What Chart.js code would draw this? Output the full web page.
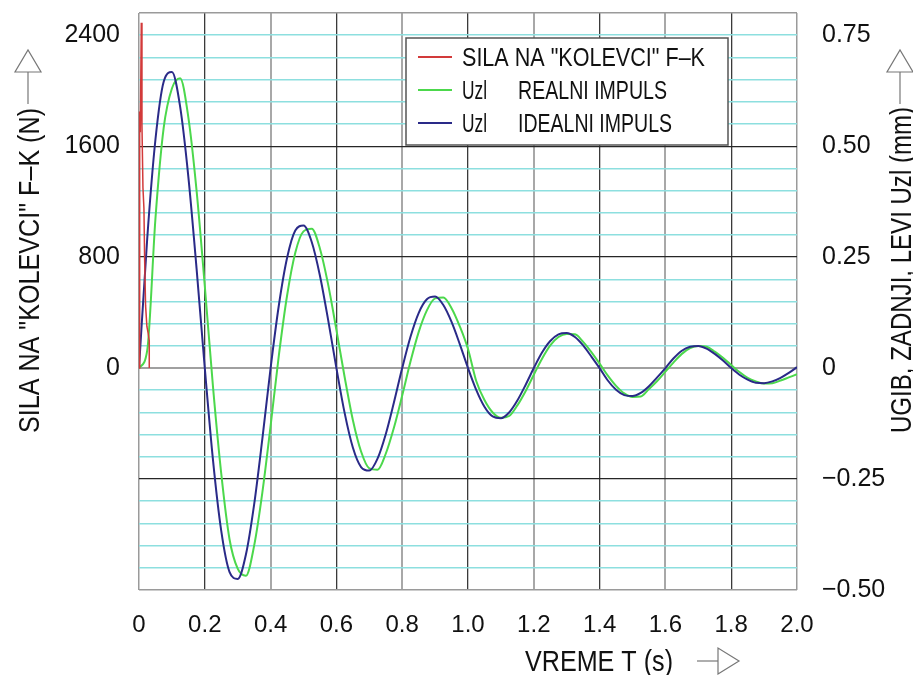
<!DOCTYPE html>
<html><head><meta charset="utf-8">
<script src="https://cdn.jsdelivr.net/npm/chart.js@4.4.0/dist/chart.umd.min.js"></script>
<style>html,body{margin:0;padding:0;background:#fff;}#wrap{width:913px;height:675px;}</style>
</head><body><div id="wrap"><canvas id="c" width="913" height="675"></canvas></div>
<script>
// ---- DATA ----
const timeS = [0,0.025,0.05,0.075,0.1,0.125,0.15,0.175,0.2,0.225,0.25,0.275,0.3,0.325,0.35,0.375,0.4,0.425,0.45,0.475,0.5,0.525,0.55,0.575,0.6,0.625,0.65,0.675,0.7,0.725,0.75,0.775,0.8,0.825,0.85,0.875,0.9,0.925,0.95,0.975,1.0,1.025,1.05,1.075,1.1,1.125,1.15,1.175,1.2,1.225,1.25,1.275,1.3,1.325,1.35,1.375,1.4,1.425,1.45,1.475,1.5,1.525,1.55,1.575,1.6,1.625,1.65,1.675,1.7,1.725,1.75,1.775,1.8,1.825,1.85,1.875,1.9,1.925,1.95,1.975,2.0];
const uzlIdeal = [0,0.292,0.515,0.645,0.667,0.589,0.431,0.224,0,
 -0.208,-0.367,-0.459,-0.475,-0.420,-0.307,-0.159,0,
 0.141,0.248,0.310,0.321,0.284,0.208,0.108,0,
 -0.101,-0.179,-0.223,-0.231,-0.204,-0.149,-0.077,0,
 0.070,0.124,0.155,0.161,0.142,0.104,0.054,0,
 -0.049,-0.087,-0.109,-0.113,-0.100,-0.073,-0.038,0,
 0.035,0.061,0.076,0.079,0.070,0.051,0.026,0,
 -0.028,-0.049,-0.061,-0.063,-0.056,-0.041,-0.021,0,
 0.022,0.039,0.048,0.050,0.044,0.032,0.017,0,
 -0.015,-0.026,-0.033,-0.034,-0.030,-0.022,-0.011,0.002];
const uzlReal = [0,0.040,0.337,0.541,0.630,0.653,0.565,0.400,0.185,
 -0.043,-0.238,-0.385,-0.452,-0.468,-0.400,-0.280,-0.130,
 0.028,0.163,0.260,0.308,0.314,0.269,0.188,0.086,
 -0.020,-0.117,-0.188,-0.226,-0.229,-0.193,-0.134,-0.062,
 0.014,0.081,0.130,0.157,0.159,0.135,0.094,0.043,
 -0.029,-0.072,-0.100,-0.112,-0.108,-0.084,-0.052,-0.015,
 0.021,0.051,0.070,0.077,0.076,0.059,0.036,0.010,
 -0.017,-0.040,-0.057,-0.065,-0.064,-0.047,-0.029,-0.008,
 0.013,0.032,0.045,0.050,0.048,0.037,0.023,0.007,
 -0.009,-0.022,-0.030,-0.035,-0.034,-0.028,-0.021,-0.014];
const forceTime = [0,0.002,0.004,0.007,0.009,0.012,0.015,0.017,0.020,0.024,0.028,0.031,0.0312];
const forceN = [0,1850,1700,2490,1750,1300,1150,800,450,300,250,200,0];

const xTickValues = [0,0.2,0.4,0.6,0.8,1.0,1.2,1.4,1.6,1.8,2.0];
const xTickLabels = ['0','0.2','0.4','0.6','0.8','1.0','1.2','1.4','1.6','1.8','2.0'];
const forceTickValues = [0,800,1600,2400];
const forceTickLabels = ['0','800','1600','2400'];
const uzlTickValues = [-0.5,-0.25,0,0.25,0.5,0.75];
const uzlTickLabels = ['\u22120.50','\u22120.25','0','0.25','0.50','0.75'];
const seriesLabels = ['SILA NA "KOLEVCI" F\u2013K','Uzl   REALNI IMPULS','Uzl   IDEALNI IMPULS'];
const titleForce = 'SILA NA "KOLEVCI" F\u2013K (N)';
const titleUzl = 'UGIB, ZADNJI, LEVI Uzl (mm)';
const titleTime = 'VREME T (s)';

// ---- STYLE ----
const RED = '#d23a3a', GREEN = '#4cd84c', BLUE = '#2a2a88';
const FONT = "'Liberation Sans', Arial, sans-serif";

function fitText(ctx, text, x, y, w, size, rot) {
  ctx.save();
  ctx.font = size + 'px ' + FONT;
  const nat = ctx.measureText(text).width;
  ctx.translate(x, y);
  if (rot) ctx.rotate(-Math.PI / 2);
  ctx.scale(w / nat, 1);
  ctx.textAlign = 'left';
  ctx.textBaseline = 'alphabetic';
  ctx.fillStyle = '#111';
  ctx.fillText(text, 0, 0);
  ctx.restore();
}

const decor = {
  id: 'decor',
  afterDraw(chart) {
    const ctx = chart.ctx;
    fitText(ctx, titleForce, 39, 433, 325, 30, true);
    fitText(ctx, titleUzl, 911, 433, 326, 30, true);
    fitText(ctx, titleTime, 525, 671, 148, 30, false);
    ctx.save();
    ctx.strokeStyle = '#777'; ctx.lineWidth = 1.2;
    [28, 900].forEach(x => {
      ctx.beginPath(); ctx.moveTo(x, 104); ctx.lineTo(x, 72); ctx.stroke();
      ctx.beginPath(); ctx.moveTo(x - 13, 72); ctx.lineTo(x + 13, 72); ctx.lineTo(x, 50); ctx.closePath(); ctx.stroke();
    });
    ctx.beginPath(); ctx.moveTo(697, 661); ctx.lineTo(718, 661); ctx.stroke();
    ctx.beginPath(); ctx.moveTo(718, 648); ctx.lineTo(718, 674); ctx.lineTo(739, 661); ctx.closePath(); ctx.stroke();
    ctx.restore();
    ctx.save();
    ctx.fillStyle = '#fff';
    ctx.fillRect(406, 38, 322, 107);
    ctx.strokeStyle = '#555'; ctx.lineWidth = 1.5;
    ctx.strokeRect(406, 38, 322, 107);
    const rows = [57, 90, 123];
    const widths = [[243], [25, 149], [25, 154]];
    chart.data.datasets.forEach(ds => {
      const idx = ds.legendIndex;
      const y = rows[idx];
      ctx.strokeStyle = ds.borderColor; ctx.lineWidth = 2;
      ctx.beginPath(); ctx.moveTo(418, y); ctx.lineTo(452, y); ctx.stroke();
      const parts = ds.label.split(/\s{2,}/);
      fitText(ctx, parts[0], 462, y + 9, widths[idx][0], 25, false);
      if (parts.length > 1) fitText(ctx, parts[1], 518, y + 9, widths[idx][1], 25, false);
    });
    ctx.restore();
  }
};

const minorUzl = [];
for (let i = 0; i <= 26; i++) minorUzl.push(Math.round((-0.5 + i * 0.05) * 100) / 100);

const chart = new Chart(document.getElementById('c'), {
  type: 'line',
  data: {
    datasets: [
      { label: seriesLabels[0], legendIndex: 0, yAxisID: 'yF', data: forceTime.map((t, i) => ({x: t, y: forceN[i]})),
        borderColor: RED, borderWidth: 1.5, pointRadius: 0, tension: 0, order: 0, clip: false },
      { label: seriesLabels[2], legendIndex: 2, yAxisID: 'yU', data: timeS.map((t, i) => ({x: t, y: uzlIdeal[i]})),
        borderColor: BLUE, borderWidth: 2, pointRadius: 0, cubicInterpolationMode: 'monotone', order: 1 },
      { label: seriesLabels[1], legendIndex: 1, yAxisID: 'yU', data: timeS.map((t, i) => ({x: t, y: uzlReal[i]})),
        borderColor: GREEN, borderWidth: 2, pointRadius: 0, cubicInterpolationMode: 'monotone', order: 2 }
    ]
  },
  options: {
    responsive: false, animation: false, devicePixelRatio: 1,
    layout: { padding: { top: 13, left: 0, right: 0, bottom: 0 } },
    plugins: { legend: { display: false }, tooltip: { enabled: false } },
    scales: {
      x: {
        type: 'linear', position: 'bottom', min: 0, max: 2,
        afterBuildTicks: s => { s.ticks = xTickValues.map(v => ({value: v})); },
        afterFit: s => { s.height = 85; s.paddingLeft = 0; s.paddingRight = 0; },
        border: { display: false },
        grid: {
          drawTicks: false,
          color: c => { const v = Math.round(c.tick.value * 10); if (v === 0 || v === 20) return '#9a9a9a'; return ((v / 2) % 2 === 1) ? '#3a3a3a' : '#a8a8a8'; },
          lineWidth: c => { const v = Math.round(c.tick.value * 10); if (v === 0 || v === 20) return 1.5; return ((v / 2) % 2 === 1) ? 1.3 : 2; }
        },
        ticks: { autoSkip: false, maxRotation: 0, padding: 21, color: '#111', font: { family: FONT, size: 24 },
          callback: (v, i) => xTickLabels[i] }
      },
      yF: {
        type: 'linear', position: 'left', min: -1600, max: 2560,
        afterBuildTicks: s => { s.ticks = forceTickValues.map(v => ({value: v})); },
        afterFit: s => { s.width = 139; s.paddingTop = 0; s.paddingBottom = 0; },
        border: { display: false },
        grid: { display: false, drawTicks: false },
        ticks: { autoSkip: false, padding: 19, color: '#111', font: { family: FONT, size: 25 },
          callback: (v, i) => forceTickLabels[i] }
      },
      yU: {
        type: 'linear', position: 'right', min: -0.5, max: 0.8,
        afterBuildTicks: s => { s.ticks = minorUzl.map(v => ({value: v})); },
        afterFit: s => { s.width = 116; s.paddingTop = 0; s.paddingBottom = 0; },
        border: { display: false },
        grid: {
          drawTicks: false,
          color: c => { const v = Math.round(c.tick.value * 100); if (v === -50 || v === 80) return '#9a9a9a'; if (v === 0) return '#a0a0a0'; if (v === 25 || v === 50 || v === -25) return '#262626'; return '#8ddfdf'; },
          lineWidth: c => { const v = Math.round(c.tick.value * 100); if (v === -50 || v === 80) return 1.5; if (v === 0) return 2; if (v === 25 || v === 50 || v === -25) return 1.3; return 1.6; }
        },
        ticks: { autoSkip: false, padding: 25, color: '#111', font: { family: FONT, size: 25 },
          callback: v => { const k = uzlTickValues.findIndex(u => Math.abs(u - v) < 1e-6); return k >= 0 ? uzlTickLabels[k] : ''; } }
      }
    }
  },
  plugins: [decor]
});
</script></body></html>
